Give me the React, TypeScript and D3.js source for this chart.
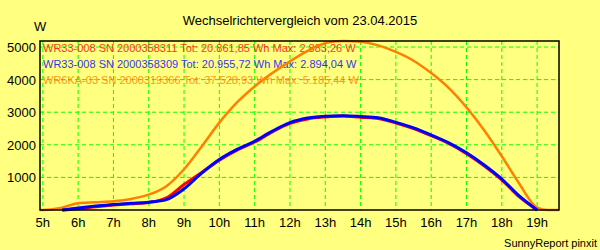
import React, { useEffect } from 'react';
import * as d3 from 'd3';

// hours of day (decimal) and inverter output in W
const hoursOrange = [4.92, 5.0, 5.5, 6.0, 6.5, 7.0, 7.5, 8.0, 8.5, 9.0, 9.5, 10.0, 10.5, 11.0, 11.5, 12.0, 12.5, 13.0, 13.5, 14.0, 14.5, 15.0, 15.5, 16.0, 16.5, 17.0, 17.5, 18.0, 18.5, 19.0, 19.3, 19.62];
const orangeW = [0, 0, 60, 210, 240, 270, 340, 470, 730, 1250, 1950, 2680, 3300, 3790, 4200, 4560, 4880, 5120, 5185, 5160, 5050, 4850, 4580, 4200, 3740, 3150, 2450, 1650, 800, 75, 0, 0];

const hoursBlue = [5.55, 6.0, 6.5, 7.0, 7.5, 8.0, 8.5, 9.0, 9.5, 10.0, 10.5, 11.0, 11.5, 12.0, 12.5, 13.0, 13.5, 14.0, 14.5, 15.0, 15.5, 16.0, 16.5, 17.0, 17.5, 18.0, 18.5, 19.0];
const blueW = [0, 60, 120, 170, 205, 240, 320, 650, 1130, 1550, 1860, 2110, 2420, 2680, 2820, 2880, 2894, 2870, 2830, 2690, 2520, 2300, 2060, 1755, 1380, 950, 425, 0];
const redW = [0, 40, 100, 150, 190, 230, 370, 780, 1150, 1530, 1835, 2085, 2395, 2655, 2795, 2855, 2883, 2845, 2805, 2670, 2500, 2280, 2040, 1730, 1360, 925, 400, 0];

const hourTicks = [5, 6, 7, 8, 9, 10, 11, 12, 13, 14, 15, 16, 17, 18, 19];
const wattTicks = [1000, 2000, 3000, 4000, 5000];

const legend = [
  { text: 'WR33-008 SN 2000358311 Tot: 20.861,85 Wh Max: 2.883,26 W', color: '#ff0000' },
  { text: 'WR33-008 SN 2000358309 Tot: 20.955,72 Wh Max: 2.894,04 W', color: '#0000ff' },
  { text: 'WR6KA-03 SN 2000319366 Tot: 37.528,93 Wh Max: 5.185,44 W', color: '#ff8000' },
];

const W = 600, H = 250;
const plot = { left: 40, right: 559, top: 41, bottom: 210 };
const font = '"Liberation Sans", Arial, sans-serif';

export default function App() {
  useEffect(() => { document.body.style.margin = '0'; }, []);

  const x = d3.scaleLinear().domain([4.92, 19.62]).range([plot.left, plot.right]);
  const y = d3.scaleLinear().domain([0, 5185]).range([plot.bottom, plot.top]);

  const line = (hs: number[]) => d3.line<number>()
    .x((_, i) => x(hs[i]))
    .y(d => y(d))
    .curve(d3.curveMonotoneX);

  return (
    <svg width={W} height={H} style={{ display: 'block', background: '#ffff80', fontFamily: font }}>
      <rect width={W} height={H} fill="#ffff80" />
      <text x={300} y={25} textAnchor="middle" fontSize={13} fill="#000">Wechselrichtervergleich vom 23.04.2015</text>
      <text x={34} y={31} fontSize={13} fill="#000">W</text>

      {/* grid */}
      {hourTicks.map(h => (
        <line key={'v' + h} x1={x(h)} x2={x(h)} y1={plot.top} y2={plot.bottom}
          stroke="#00ff00" strokeWidth={1} strokeDasharray="4,3" />
      ))}
      {wattTicks.map(v => (
        <line key={'h' + v} x1={plot.left} x2={plot.right} y1={y(v)} y2={y(v)}
          stroke="#00ff00" strokeWidth={1} strokeDasharray="4,3" />
      ))}

      {/* legend */}
      {legend.map((l, i) => (
        <text key={l.text} x={43} y={52 + i * 16} fontSize={11} fill={l.color} opacity={0.8}>{l.text}</text>
      ))}

      {/* series */}
      <path d={line(hoursOrange)(orangeW) || ''} fill="none" stroke="#ff8000" strokeWidth={2.5} />
      <path d={line(hoursBlue)(redW) || ''} fill="none" stroke="#ff0000" strokeWidth={3} />
      <path d={line(hoursBlue)(blueW) || ''} fill="none" stroke="#0000ff" strokeWidth={3} />

      {/* frame */}
      <rect x={plot.left} y={plot.top} width={plot.right - plot.left} height={plot.bottom - plot.top}
        fill="none" stroke="#000" strokeWidth={1.5} />

      {/* axis labels */}
      {hourTicks.map(h => (
        <text key={'xt' + h} x={x(h)} y={227} textAnchor="middle" fontSize={13} fill="#000">{h}h</text>
      ))}
      {wattTicks.map(v => (
        <text key={'yt' + v} x={36} y={y(v) + 5} textAnchor="end" fontSize={13} fill="#000">{v}</text>
      ))}

      <text x={597} y={247} textAnchor="end" fontSize={11} fill="#000">SunnyReport pinxit</text>
    </svg>
  );
}
